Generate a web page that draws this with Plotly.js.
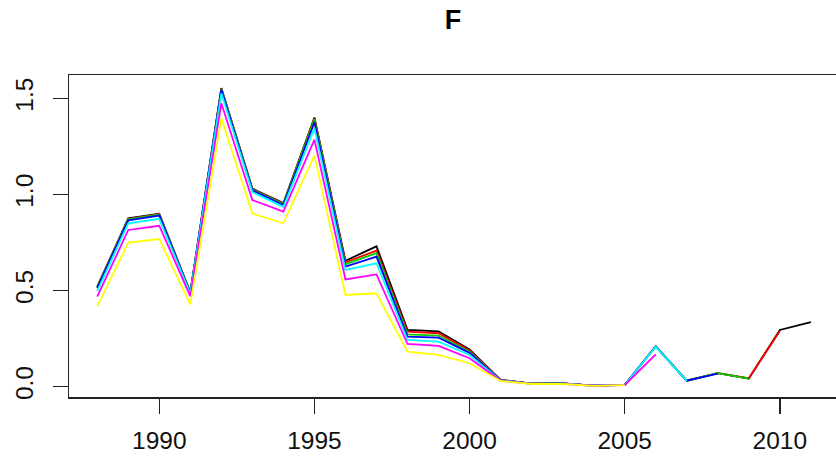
<!DOCTYPE html>
<html>
<head>
<meta charset="utf-8">
<script src="https://cdn.plot.ly/plotly-3.0.1.min.js"></script>
<style>html,body{margin:0;padding:0;background:#fff;}#chart{width:836px;height:459px;}</style>
</head>
<body>
<div id="chart"></div>
<script>
const years = [1988,1989,1990,1991,1992,1993,1994,1995,1996,1997,1998,1999,2000,2001,2002,2003,2004,2005,2006,2007,2008,2009,2010,2011];

const peel0 = [0.520,0.875,0.900,0.490,1.553,1.030,0.955,1.400,0.655,0.730,0.296,0.288,0.194,0.036,0.016,0.017,0.006,0.009,0.210,0.031,0.070,0.043,0.295,0.336];
const peel1 = [0.518,0.872,0.898,0.489,1.550,1.027,0.952,1.395,0.647,0.708,0.286,0.278,0.188,0.035,0.016,0.017,0.006,0.009,0.210,0.031,0.070,0.043,0.290];
const peel2 = [0.516,0.870,0.895,0.488,1.548,1.024,0.950,1.390,0.637,0.695,0.272,0.266,0.182,0.034,0.016,0.017,0.006,0.009,0.210,0.031,0.070,0.042];
const peel3 = [0.512,0.865,0.890,0.487,1.543,1.020,0.945,1.375,0.625,0.676,0.260,0.255,0.176,0.034,0.016,0.017,0.006,0.009,0.210,0.031,0.068];
const peel4 = [0.497,0.850,0.873,0.484,1.526,1.012,0.935,1.344,0.607,0.642,0.243,0.234,0.165,0.033,0.015,0.016,0.005,0.009,0.208,0.030];
const peel5 = [0.468,0.815,0.837,0.470,1.474,0.971,0.910,1.285,0.558,0.584,0.222,0.212,0.148,0.032,0.015,0.015,0.005,0.008,0.168];
const peel6 = [0.418,0.749,0.768,0.428,1.396,0.900,0.850,1.203,0.477,0.486,0.182,0.165,0.122,0.030,0.014,0.014,0.004,0.008];

const peels = [peel0,peel1,peel2,peel3,peel4,peel5,peel6];
const colors = ['#000000','#FF0000','#00CD00','#0000FF','#00FFFF','#FF00FF','#FFFF00'];
const xTickVals = [1990,1995,2000,2005,2010];
const yTickVals = [0,0.5,1,1.5];
const yTickText = ['0.0','0.5','1.0','1.5'];

const traces = peels.map((vals,i) => ({
  x: years.slice(0, vals.length),
  y: vals,
  type: 'scatter',
  mode: 'lines',
  line: {color: colors[i], width: 1.8},
  hoverinfo: 'skip',
  showlegend: false
}));

const tickFont = {family: 'Liberation Sans, Arial, sans-serif', size: 24.5, color: '#111'};

const layout = {
  width: 836, height: 459,
  margin: {l: 69, r: 0, t: 75, b: 62, pad: 0},
  paper_bgcolor: '#fff', plot_bgcolor: '#fff',
  title: {
    text: '<b>F</b>',
    font: {family: 'Liberation Sans, Arial, sans-serif', size: 27, color: '#000'},
    x: 453/836, xref: 'container', xanchor: 'center',
    y: 1 - 20/459, yref: 'container', yanchor: 'middle'
  },
  xaxis: {
    range: [1987.09, 2011.81],
    tickvals: xTickVals,
    ticktext: xTickVals.map(String),
    ticks: 'outside', ticklen: 15, tickwidth: 1.5, tickcolor: '#222',
    showline: true, linecolor: '#222', linewidth: 1.5, mirror: true,
    showgrid: false, zeroline: false,
    tickfont: tickFont,
    ticklabelstandoff: 6
  },
  yaxis: {
    range: [-0.0536, 1.621],
    tickvals: yTickVals,
    ticktext: yTickText,
    tickangle: -90,
    ticks: 'outside', ticklen: 15, tickwidth: 1.5, tickcolor: '#222',
    showline: true, linecolor: '#222', linewidth: 1.5, mirror: false,
    showgrid: false, zeroline: false,
    tickfont: tickFont,
    ticklabelstandoff: 10
  }
};

Plotly.newPlot('chart', traces, layout, {staticPlot: true, displayModeBar: false});
</script>
</body>
</html>
